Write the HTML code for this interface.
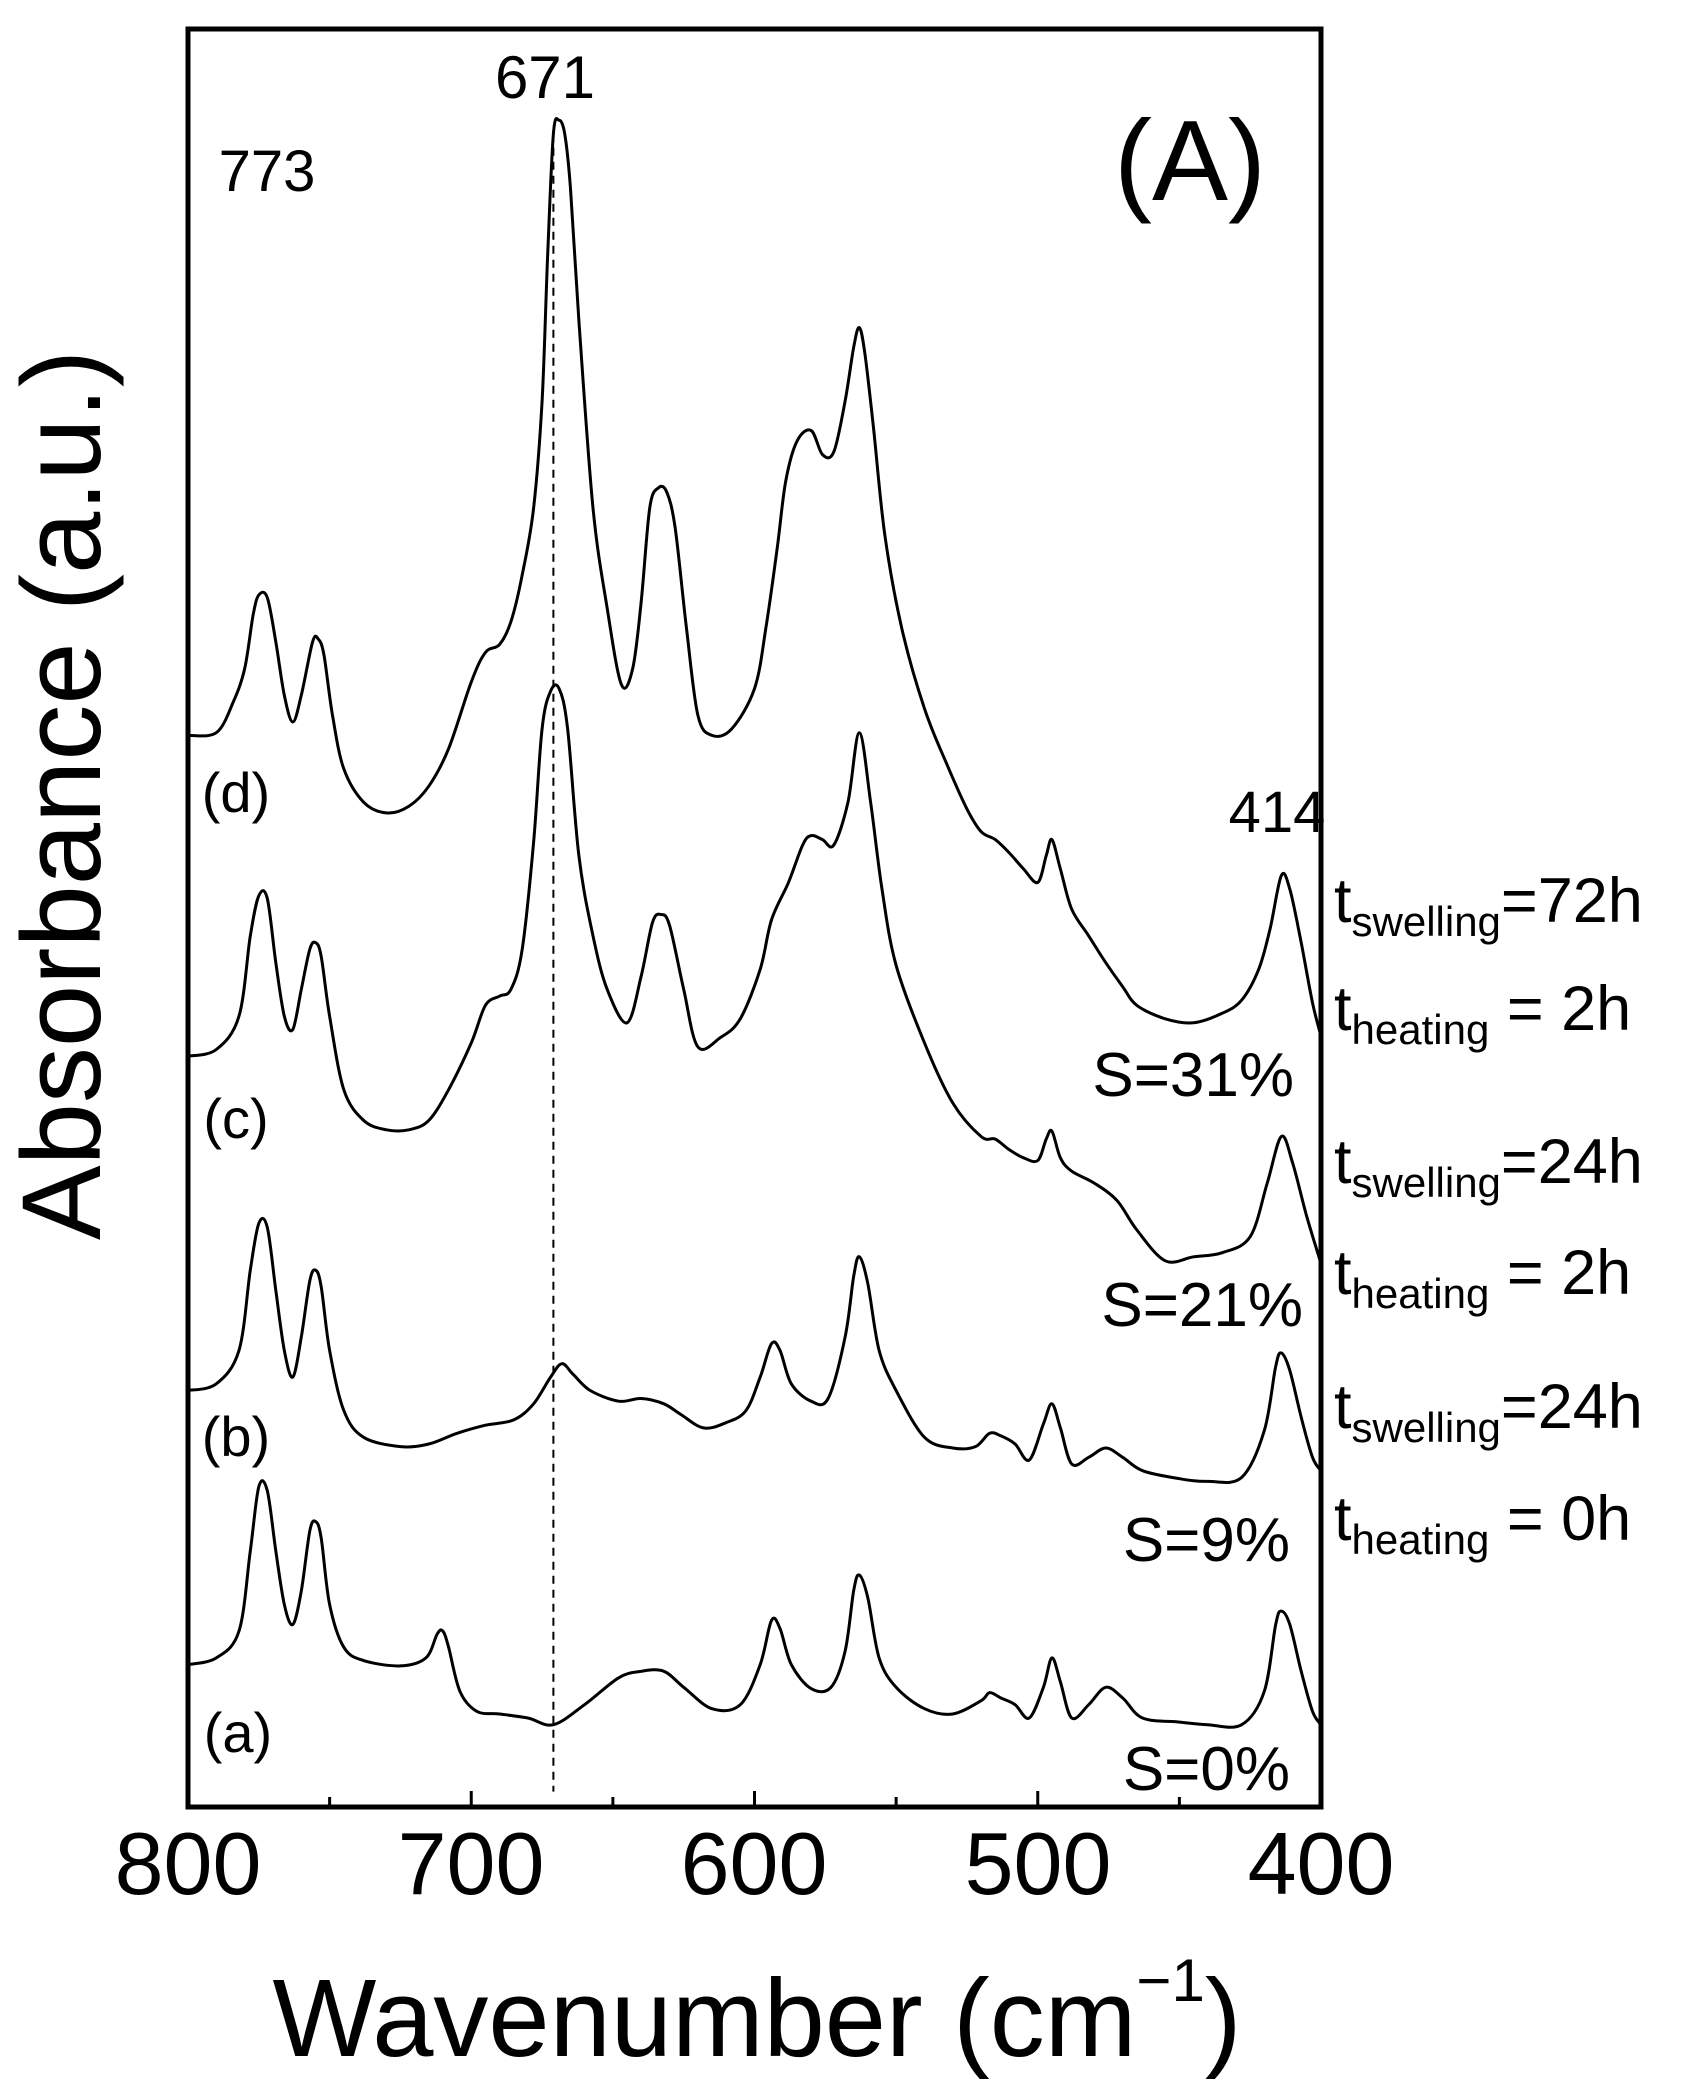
<!DOCTYPE html>
<html><head><meta charset="utf-8">
<style>
html,body{margin:0;padding:0;background:#fff;}
svg{display:block;}
text{font-family:"Liberation Sans",Arial,sans-serif;fill:#000;}
</style></head>
<body>
<svg id="s" width="1686" height="2092" viewBox="0 0 1686 2092" xmlns="http://www.w3.org/2000/svg">
<rect x="0" y="0" width="1686" height="2092" fill="#fff"/>
<g id="curves" fill="none" stroke="#000" stroke-width="3" stroke-linejoin="round"></g>
<line id="dash" stroke="#000" stroke-width="2" stroke-dasharray="8,6"/>
<rect x="188" y="29" width="1133" height="1778" fill="none" stroke="#000" stroke-width="5"/>
<g id="ticks" stroke="#000" stroke-width="3"></g>
<g font-size="88" text-anchor="middle">
<text x="188" y="1894">800</text>
<text x="471" y="1894">700</text>
<text x="754" y="1894">600</text>
<text x="1038" y="1894">500</text>
<text x="1321" y="1894">400</text>
</g>
<text x="757" y="2056" font-size="110" text-anchor="middle">Wavenumber (cm<tspan dy="-55" font-size="60">−1</tspan><tspan dy="55">)</tspan></text>
<text transform="translate(100,795) rotate(-90)" font-size="112" text-anchor="middle">Absorbance (a.u.)</text>
<text x="545" y="98" font-size="60" text-anchor="middle">671</text>
<text x="1190" y="200" font-size="114" text-anchor="middle">(A)</text>
<text x="267" y="191" font-size="58" text-anchor="middle">773</text>
<text x="1277" y="832" font-size="58" text-anchor="middle">414</text>
<g font-size="56" text-anchor="middle">
<text x="236" y="812">(d)</text>
<text x="236" y="1138">(c)</text>
<text x="236" y="1456">(b)</text>
<text x="238" y="1752">(a)</text>
</g>
<g font-size="62" text-anchor="end">
<text x="1294" y="1096">S=31%</text>
<text x="1303" y="1326">S=21%</text>
<text x="1290" y="1561">S=9%</text>
<text x="1290" y="1790">S=0%</text>
</g>
<g font-size="63">
<text x="1334" y="922">t<tspan font-size="42" dy="14">swelling</tspan><tspan dy="-14">=72h</tspan></text>
<text x="1334" y="1030">t<tspan font-size="42" dy="14">heating</tspan><tspan dy="-14"> = 2h</tspan></text>
<text x="1334" y="1183">t<tspan font-size="42" dy="14">swelling</tspan><tspan dy="-14">=24h</tspan></text>
<text x="1334" y="1294">t<tspan font-size="42" dy="14">heating</tspan><tspan dy="-14"> = 2h</tspan></text>
<text x="1334" y="1428">t<tspan font-size="42" dy="14">swelling</tspan><tspan dy="-14">=24h</tspan></text>
<text x="1334" y="1540">t<tspan font-size="42" dy="14">heating</tspan><tspan dy="-14"> = 0h</tspan></text>
</g>
</svg>
<script>
var S=1.337;
function X(w){return 188+(800-w)*1133/400;}
function Y(d){return d*S;}
var curves=[
[800,1245,790,1240,782,1220,778,1160,775,1112,772,1115,769,1160,766,1200,763,1215,760,1190,757,1145,755,1138,753,1150,750,1200,745,1232,738,1242,725,1246,716,1240,712,1222,710,1220,708,1232,704,1265,698,1280,690,1282,680,1285,671,1290,660,1275,648,1255,640,1250,632,1250,625,1262,615,1278,605,1275,598,1245,594,1212,591,1218,587,1245,580,1263,573,1262,568,1235,565,1190,563,1178,560,1195,556,1240,550,1262,540,1278,530,1282,520,1272,517,1266,513,1270,508,1275,503,1285,498,1262,495,1240,492,1258,488,1285,482,1275,476,1262,470,1270,463,1285,450,1288,440,1290,428,1290,420,1265,416,1215,414,1205,411,1215,407,1250,403,1280,400,1290],
[800,1040,790,1035,782,1010,778,950,775,915,772,918,769,965,766,1010,763,1030,760,1000,757,958,755,950,753,962,750,1010,745,1055,738,1075,725,1082,715,1080,705,1072,695,1066,685,1062,678,1050,672,1030,668,1020,664,1028,658,1040,648,1048,640,1046,632,1050,626,1058,618,1068,610,1064,603,1055,598,1030,594,1005,591,1010,587,1035,580,1048,574,1046,568,1000,565,955,563,940,560,960,556,1010,550,1040,540,1075,530,1083,522,1082,517,1072,513,1074,508,1080,503,1092,498,1065,495,1050,492,1068,488,1095,482,1090,476,1083,470,1090,463,1100,450,1106,440,1108,428,1105,420,1070,416,1022,414,1012,411,1025,407,1060,403,1090,400,1100],
[800,790,790,785,782,760,778,700,775,670,772,672,769,720,766,760,763,770,760,740,757,710,755,705,753,715,750,760,745,815,738,838,730,845,722,845,715,838,708,815,700,780,695,752,690,745,686,740,682,710,678,630,675,545,672,517,669,515,666,545,662,640,657,700,652,740,645,765,640,730,636,690,633,684,630,692,625,740,620,783,612,776,605,762,598,725,594,688,588,660,583,632,580,625,576,628,572,632,567,600,563,548,559,600,555,665,550,722,540,780,530,825,520,850,515,852,510,860,505,866,500,868,497,852,495,846,492,866,488,876,480,885,472,898,465,920,455,943,445,940,435,937,425,925,419,885,414,850,410,870,405,910,400,945],
[800,550,790,548,784,525,780,500,777,460,775,445,772,447,769,480,766,520,763,540,760,520,756,480,754,478,752,490,749,535,745,575,738,600,730,608,722,603,715,588,708,560,700,510,695,488,690,482,686,465,682,430,678,380,675,300,673,190,671,100,669,90,667,100,665,140,662,240,657,380,652,455,647,512,643,500,640,450,637,380,634,365,631,368,628,395,624,470,620,535,615,550,608,545,600,515,596,470,592,410,589,360,585,330,580,322,576,340,572,338,568,300,565,260,563,245,561,265,558,320,554,400,548,470,540,530,532,572,525,605,520,622,515,628,510,638,505,650,500,660,497,640,495,628,492,650,488,680,482,700,476,720,470,738,465,752,455,762,445,765,435,758,428,748,422,725,418,695,414,655,411,665,407,705,403,750,400,775]
];
var g=document.getElementById('curves');
curves.forEach(function(c){
  var pts=[];for(var i=0;i<c.length;i+=2)pts.push([X(c[i]),Y(c[i+1])]);
  var d='M'+pts[0][0].toFixed(1)+','+pts[0][1].toFixed(1);
  for(var i=0;i<pts.length-1;i++){
    var p0=pts[Math.max(0,i-1)],p1=pts[i],p2=pts[i+1],p3=pts[Math.min(pts.length-1,i+2)];
    var c1x=p1[0]+(p2[0]-p0[0])/6,c1y=p1[1]+(p2[1]-p0[1])/6;
    var c2x=p2[0]-(p3[0]-p1[0])/6,c2y=p2[1]-(p3[1]-p1[1])/6;
    d+=' C'+c1x.toFixed(1)+','+c1y.toFixed(1)+' '+c2x.toFixed(1)+','+c2y.toFixed(1)+' '+p2[0].toFixed(1)+','+p2[1].toFixed(1);
  }
  var p=document.createElementNS('http://www.w3.org/2000/svg','path');
  p.setAttribute('d',d);g.appendChild(p);
});
var dl=document.getElementById('dash');
dl.setAttribute('x1',X(671));dl.setAttribute('x2',X(671));
dl.setAttribute('y1',Y(100));dl.setAttribute('y2',Y(1340));
var t=document.getElementById('ticks');
for(var w=750;w>400;w-=50){
  var L=(w%100==0)?16:10;
  var l=document.createElementNS('http://www.w3.org/2000/svg','line');
  l.setAttribute('x1',X(w));l.setAttribute('x2',X(w));
  l.setAttribute('y1',1807);l.setAttribute('y2',1807-L);t.appendChild(l);
}
</script>
</body></html>
